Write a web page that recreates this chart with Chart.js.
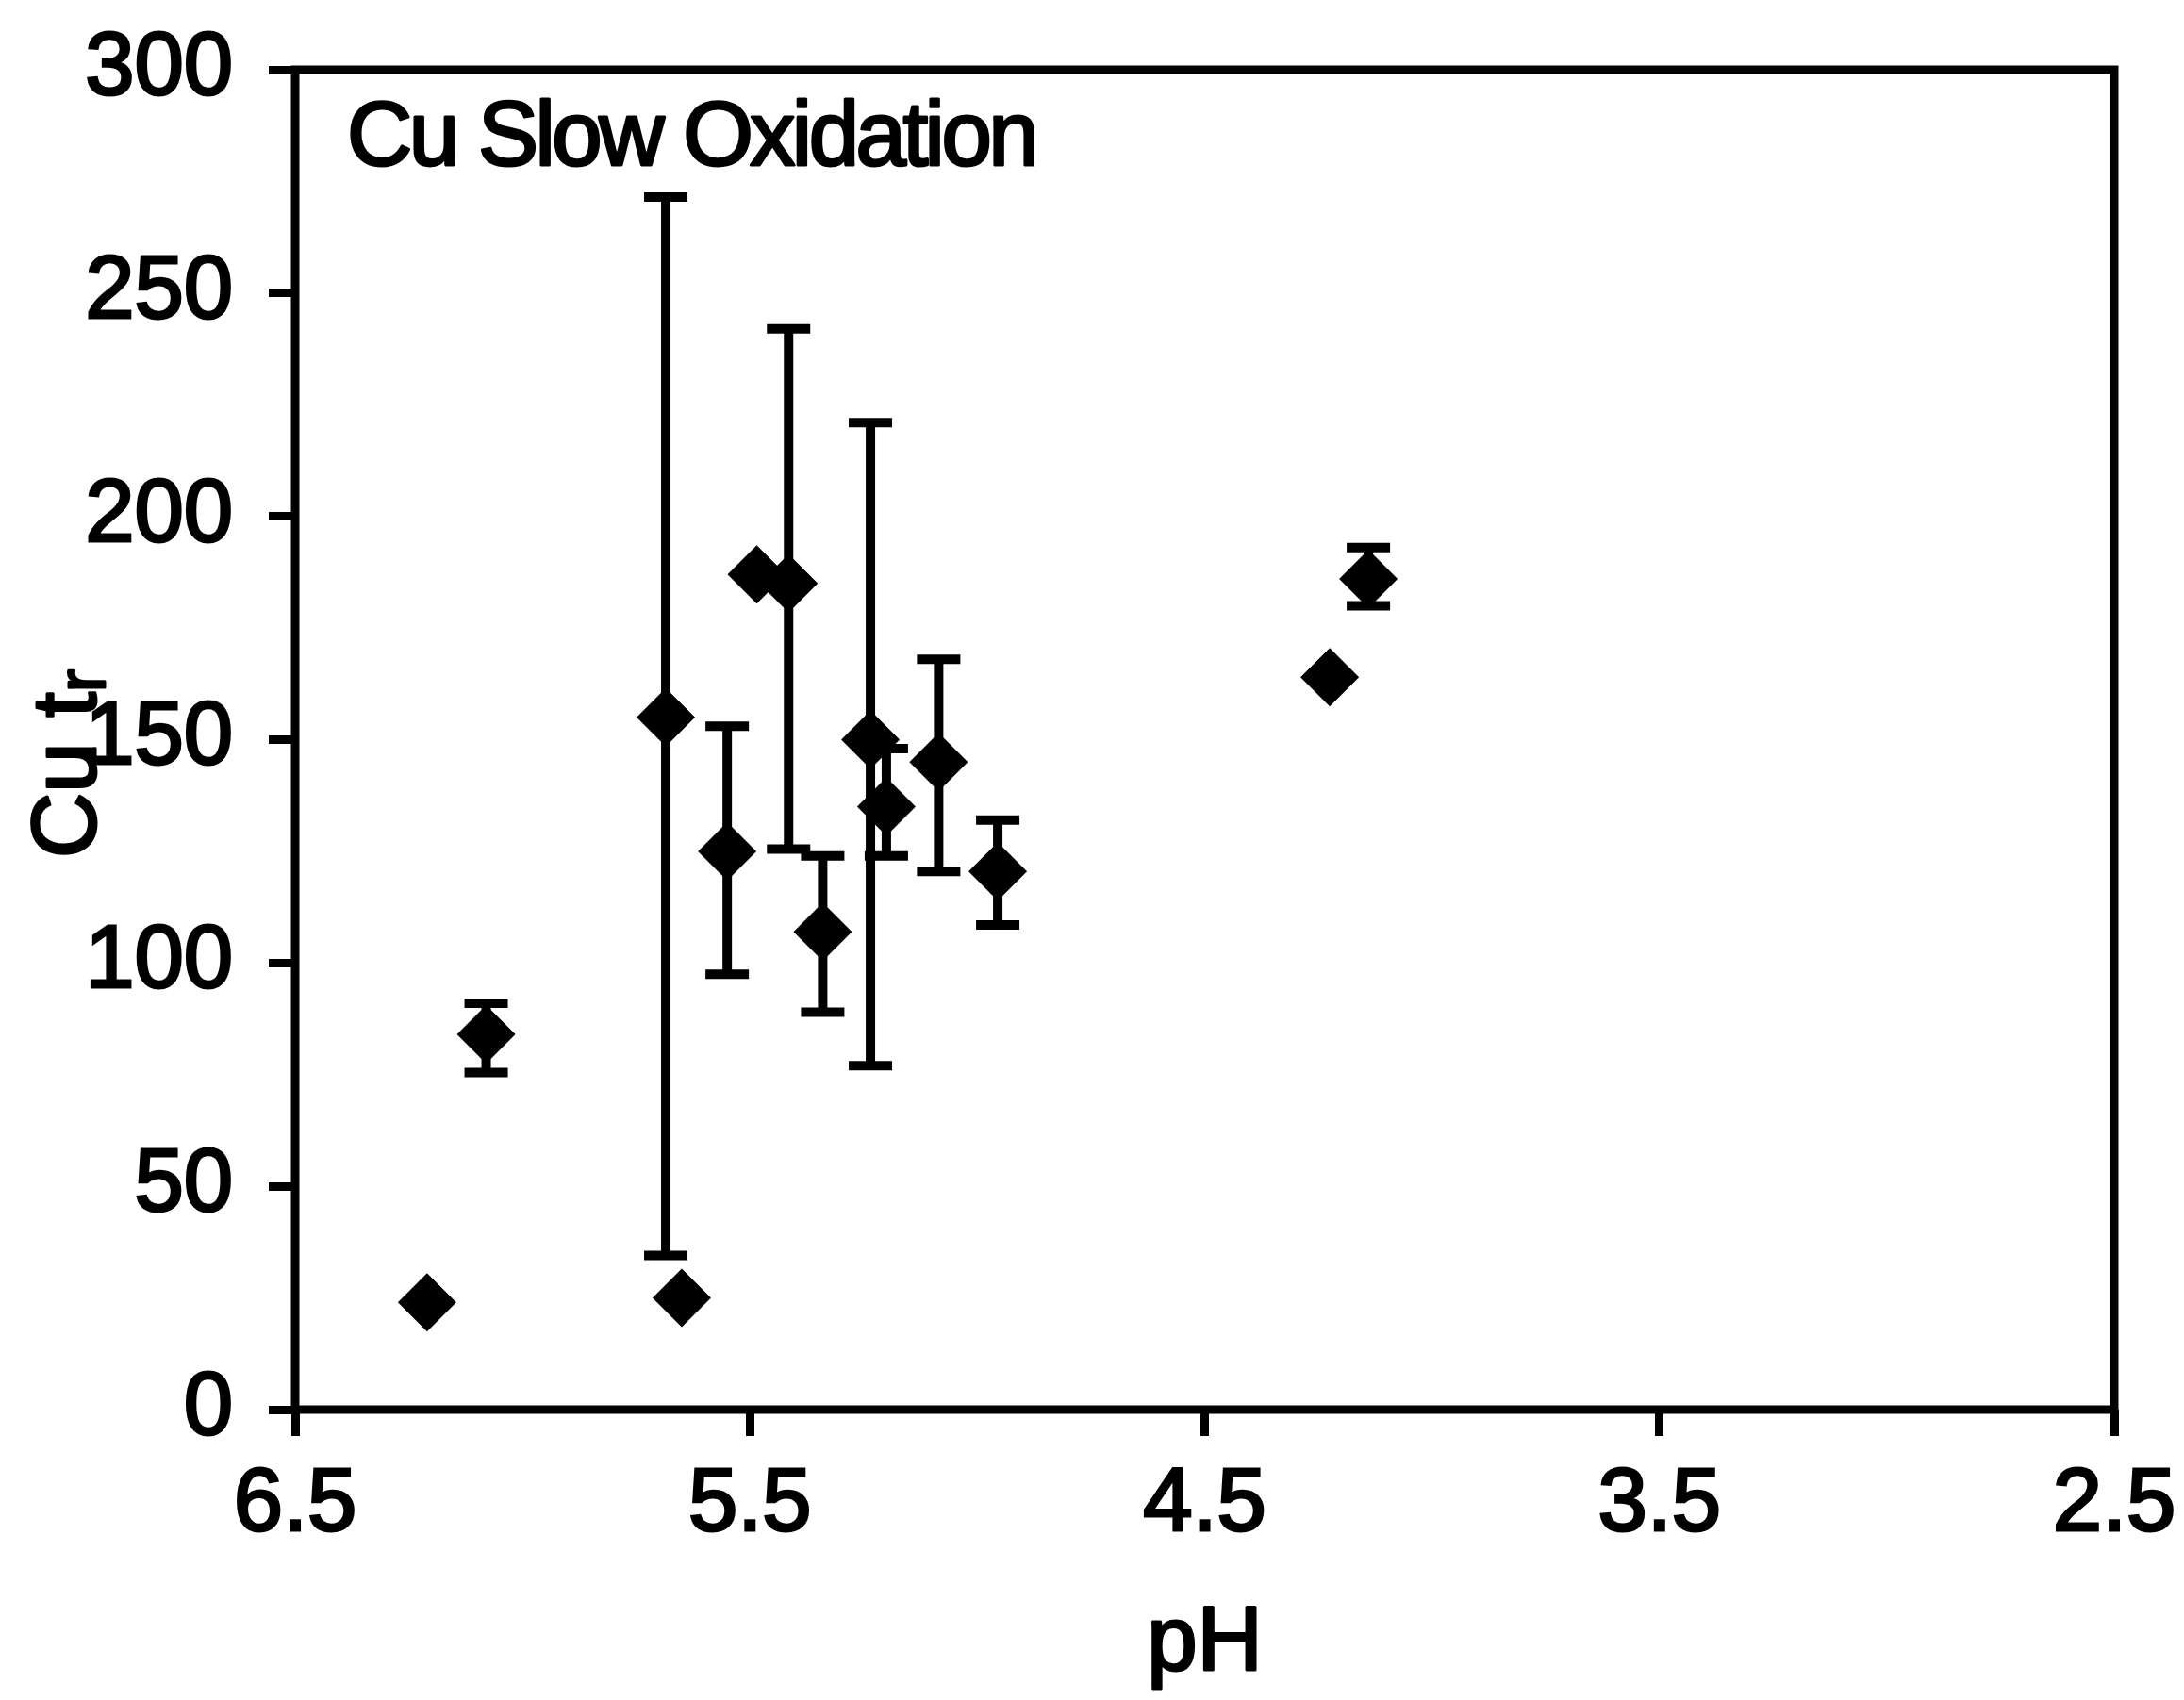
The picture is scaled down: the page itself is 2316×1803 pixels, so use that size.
<!DOCTYPE html>
<html>
<head>
<meta charset="utf-8">
<script src="https://cdn.jsdelivr.net/npm/chart.js@4.4.1/dist/chart.umd.min.js"></script>
<style>
  html, body { margin: 0; padding: 0; background: #fff; }
  canvas { display: block; }
</style>
</head>
<body>
<canvas id="chart" width="2316" height="1803"></canvas>
<script>
// values
const phValues = [6.21, 6.08, 5.685, 5.65, 5.55, 5.485, 5.415, 5.34, 5.235, 5.20, 5.085, 4.955, 4.225, 4.14];
const cuValues = [24, 84, 155, 25, 125, 187, 185, 107, 150, 135, 145, 120.5, 164, 186];
const errLow  = [null, 75.5, 34.5, null, 97.5, null, 125.5, 89, 77, 124, 120.5, 108.5, null, 180];
const errHigh = [null, 91, 271.5, null, 153, null, 242, 124, 221, 148, 168, 132, null, 193];
const xTicks = [6.5, 5.5, 4.5, 3.5, 2.5];
const yTicks = [0, 50, 100, 150, 200, 250, 300];

const FONT = "'Liberation Sans', Arial, sans-serif";
const LINE = 9;

const points = phValues.map((ph, i) => ({x: ph, y: cuValues[i]}));

// error bars drawn from the scales
const errorBars = {
  id: 'errorBars',
  beforeDatasetsDraw(chart) {
    const ctx = chart.ctx;
    const xs = chart.scales.x, ys = chart.scales.y;
    ctx.save();
    ctx.strokeStyle = '#000';
    ctx.lineWidth = 10;
    phValues.forEach((ph, i) => {
      if (errLow[i] == null) return;
      const px = xs.getPixelForValue(ph);
      const top = ys.getPixelForValue(errHigh[i]);
      const bot = ys.getPixelForValue(errLow[i]);
      ctx.beginPath();
      ctx.moveTo(px, top); ctx.lineTo(px, bot);
      ctx.moveTo(px - 23, top); ctx.lineTo(px + 23, top);
      ctx.moveTo(px - 23, bot); ctx.lineTo(px + 23, bot);
      ctx.stroke();
    });
    ctx.restore();
  }
};

function heavyText(ctx, text, x, y) {
  ctx.fillText(text, x, y);
  ctx.strokeText(text, x, y);
}

// box round the plot, annotation and y title with subscript
const decorations = {
  id: 'decorations',
  afterDraw(chart) {
    const ctx = chart.ctx;
    const a = chart.chartArea;
    ctx.save();
    ctx.strokeStyle = '#000';
    ctx.lineWidth = LINE;
    ctx.strokeRect(a.left, a.top, a.right - a.left, a.bottom - a.top);

    ctx.fillStyle = '#000';
    ctx.lineWidth = 3;
    ctx.lineJoin = 'round';
    ctx.font = '96px ' + FONT;
    ctx.textBaseline = 'alphabetic';
    ctx.letterSpacing = '-3.5px';
    heavyText(ctx, 'Cu Slow Oxidation', a.left + 55, a.top + 101);
    ctx.letterSpacing = '0px';

    // pH title under the x axis
    ctx.textAlign = 'center';
    heavyText(ctx, 'pH', (a.left + a.right) / 2, 1771);
    ctx.textAlign = 'left';

    // y axis title: Cu t with subscript r
    ctx.translate(67, 810);
    ctx.rotate(-Math.PI / 2);
    ctx.font = '96px ' + FONT;
    const main = 'Cu t';
    const wMain = ctx.measureText(main).width;
    ctx.font = '72px ' + FONT;
    const wSub = ctx.measureText('r').width;
    const start = -(wMain + wSub) / 2;
    ctx.font = '96px ' + FONT;
    heavyText(ctx, main, start, 34);
    ctx.font = '72px ' + FONT;
    heavyText(ctx, 'r', start + wMain, 44);
    ctx.restore();
  }
};

new Chart(document.getElementById('chart'), {
  type: 'scatter',
  data: {
    datasets: [{
      label: 'Cu slow oxidation',
      data: points,
      pointStyle: 'rectRot',
      pointRadius: 31,
      pointHoverRadius: 31,
      backgroundColor: '#000',
      borderColor: '#000',
      borderWidth: 0
    }]
  },
  options: {
    responsive: false,
    animation: false,
    devicePixelRatio: 1,
    layout: { padding: { top: 74, right: 74, left: 0, bottom: 0 } },
    plugins: {
      legend: { display: false },
      tooltip: { enabled: false }
    },
    scales: {
      x: {
        type: 'linear',
        min: 2.5,
        max: 6.5,
        reverse: true,
        afterBuildTicks: s => { s.ticks = xTicks.map(v => ({value: v})); },
        afterFit: s => { s.height = 308; s.paddingLeft = 0; s.paddingRight = 0; },
        border: { display: false },
        grid: { drawOnChartArea: false, drawTicks: true, tickLength: 28, lineWidth: LINE, color: '#000' },
        ticks: {
          color: '#000',
          padding: 18,
          maxRotation: 0,
          textStrokeColor: '#000',
          textStrokeWidth: 3,
          font: { family: FONT, size: 94 },
          callback: v => v.toFixed(1)
        }
      },
      y: {
        type: 'linear',
        min: 0,
        max: 300,
        afterBuildTicks: s => { s.ticks = yTicks.map(v => ({value: v})); },
        afterFit: s => { s.width = 313; s.paddingTop = 0; s.paddingBottom = 0; },
        border: { display: false },
        grid: { drawOnChartArea: false, drawTicks: true, tickLength: 28, lineWidth: LINE, color: '#000' },
        ticks: {
          color: '#000',
          padding: 38,
          textStrokeColor: '#000',
          textStrokeWidth: 3,
          font: { family: FONT, size: 94 }
        }
      }
    }
  },
  plugins: [errorBars, decorations]
});
</script>
</body>
</html>
